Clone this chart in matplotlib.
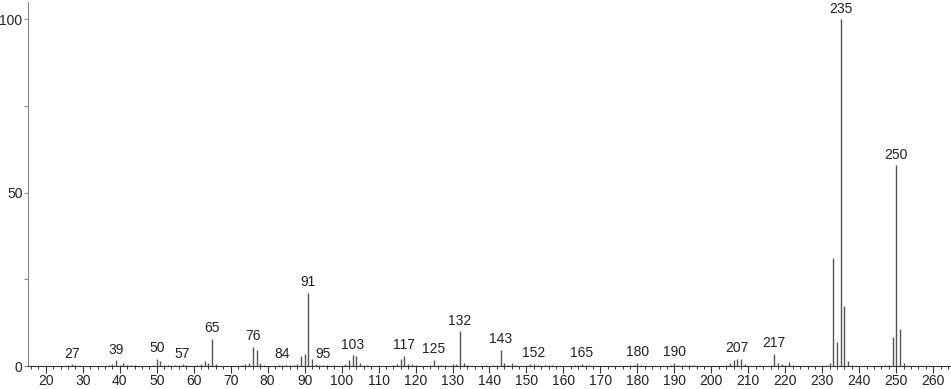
import matplotlib
matplotlib.use("Agg")
import matplotlib.pyplot as plt
from matplotlib.ticker import MultipleLocator

plt.rcParams["font.family"] = ["Liberation Sans", "DejaVu Sans"]

# m/z and relative intensity (%)
mz = [26, 27, 28, 37, 38, 39, 40, 41, 42, 43, 44,
      49, 50, 51, 52, 53, 55, 56, 57, 58, 61, 62, 63, 64, 65, 66,
      73, 74, 75, 76, 77, 78, 79, 83, 84, 85, 86, 87, 88, 89, 90, 91, 92, 93, 94, 95, 96, 98,
      101, 102, 103, 104, 105, 106, 107, 110, 114, 115, 116, 117, 118, 119, 120,
      124, 125, 126, 127, 128, 130, 131, 132, 133, 134,
      139, 141, 142, 143, 144, 145, 146, 147,
      150, 151, 152, 153, 155, 156, 157, 163, 164, 165, 166, 167,
      178, 179, 180, 181, 189, 190, 191, 192, 193, 194, 195,
      204, 205, 206, 207, 208, 209, 216, 217, 218, 219, 220, 221, 222,
      230, 231, 232, 233, 234, 235, 236, 237, 238, 247, 248, 249, 250, 251, 252]
intensity = [0.2, 0.5, 0.2, 0.2, 0.5, 1.6, 0.3, 0.8, 0.3, 0.3, 0.2,
             0.3, 2.1, 1.4, 0.4, 0.3, 0.2, 0.3, 0.5, 0.3, 0.3, 0.6, 1.5, 0.8, 7.8, 0.5,
             0.3, 0.6, 1.0, 5.5, 4.7, 0.8, 0.3, 0.2, 0.4, 0.3, 0.2, 0.3, 0.6, 2.9, 3.6, 21.2, 1.9, 0.5, 0.3, 0.4, 0.2, 0.2,
             0.6, 1.6, 3.1, 3.0, 1.0, 0.4, 0.3, 0.3, 0.2, 0.6, 2.1, 3.0, 0.7, 0.5, 0.3,
             0.3, 1.8, 0.4, 0.3, 0.4, 0.6, 0.7, 10.0, 1.0, 0.3,
             0.3, 0.3, 0.4, 4.7, 1.0, 0.4, 0.8, 0.3,
             0.2, 0.5, 0.7, 0.4, 0.2, 0.3, 0.2, 0.3, 0.3, 0.6, 0.3, 0.2,
             0.3, 0.4, 1.0, 0.3, 0.3, 1.0, 0.4, 0.3, 0.3, 0.3, 0.2,
             0.4, 0.8, 1.6, 2.1, 2.1, 0.5, 0.3, 3.5, 1.0, 0.5, 0.4, 1.2, 0.3,
             0.2, 0.3, 0.8, 31.2, 7.0, 100.0, 17.3, 1.4, 0.3, 0.2, 0.3, 8.4, 57.9, 10.6, 0.8]

labeled = [27, 39, 50, 57, 65, 76, 84, 91, 95, 103, 117, 125, 132, 143,
           152, 165, 180, 190, 207, 217, 235, 250]

fig = plt.figure(figsize=(9.51, 3.89), dpi=100)
ax = fig.add_axes([28 / 951, 23 / 389, 1 - 28 / 951, 364 / 389])

ax.vlines(mz, 0, intensity, colors="#555555", linewidth=1.0)

peak = dict(zip(mz, intensity))
for m in labeled:
    ax.annotate(str(m), (m, peak[m]), xytext=(0, 2.5), textcoords="offset points",
                ha="center", va="bottom", fontsize=10, color="#222222")

ax.set_xlim(15.2, 264.8)
ax.set_ylim(0, 105)
ax.set_xticks(range(20, 261, 10))
ax.xaxis.set_minor_locator(MultipleLocator(2))
ax.set_yticks([0, 50, 100])
ax.yaxis.set_minor_locator(MultipleLocator(25))

for side in ("top", "right"):
    ax.spines[side].set_visible(False)
ax.spines["left"].set_color("#888888")
ax.spines["bottom"].set_color("#333333")
ax.tick_params(axis="x", which="major", length=5, width=0.8, color="#333333",
               labelsize=10, pad=1, labelcolor="#222222")
ax.tick_params(axis="x", which="minor", length=2.5, width=0.7, color="#333333")
ax.tick_params(axis="y", which="major", length=3, width=0.8, color="#888888",
               labelsize=10, pad=1, labelcolor="#222222")
ax.tick_params(axis="y", which="minor", length=3, width=0.8, color="#888888")
ax.set_facecolor("white")

fig.savefig("out.png", dpi=100, facecolor="white")
